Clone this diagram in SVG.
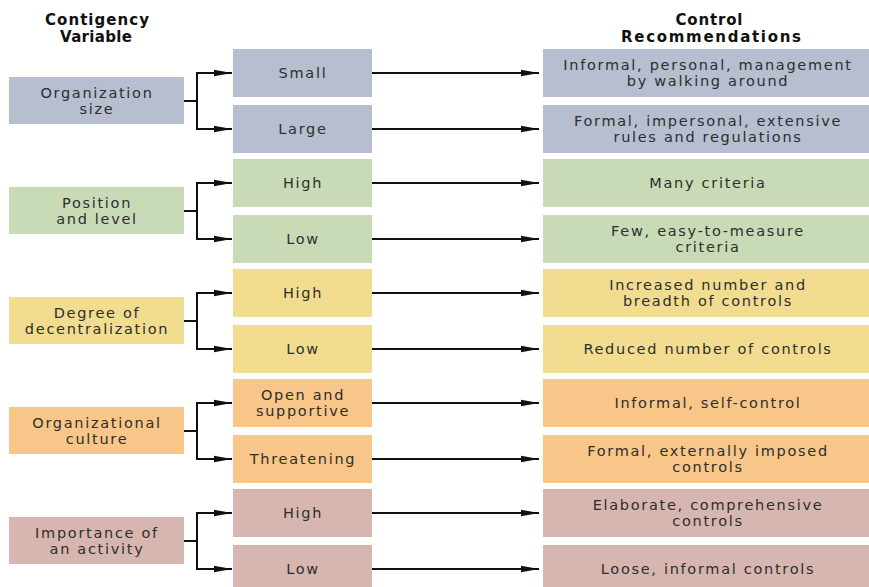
<svg xmlns="http://www.w3.org/2000/svg" width="869" height="587" viewBox="0 0 869 587">
<defs>
<style>
.hd{font-family:"DejaVu Sans","Liberation Sans",sans-serif;font-weight:bold;font-size:15px;fill:#111;text-anchor:middle}
.t{font-family:"DejaVu Sans","Liberation Sans",sans-serif;font-size:14.5px;fill:#2e2e2e;text-anchor:middle;letter-spacing:1.7px}
.c1{fill:#b6becf}
.c2{fill:#c8dbb6}
.c3{fill:#f2dc90}
.c4{fill:#f8c688}
.c5{fill:#d7b6af}
.ln{fill:none;stroke:#111;stroke-width:2}
.ar{fill:none;stroke:#111;stroke-width:2;marker-end:url(#ah)}
</style>
<marker id="ah" markerUnits="userSpaceOnUse" markerWidth="18" markerHeight="8" refX="18" refY="4" orient="auto">
<path d="M0,0.8 L18,4 L0,7.2 z" fill="#111"/>
</marker>
</defs>
<rect width="869" height="587" fill="#fff"/>
<g id="headers">
<text class="hd" x="97" y="25" textLength="104" lengthAdjust="spacing">Contigency</text>
<text class="hd" x="96" y="42" textLength="72" lengthAdjust="spacing">Variable</text>
<text class="hd" x="709" y="25" textLength="67" lengthAdjust="spacing">Control</text>
<text class="hd" x="711" y="42" textLength="180" lengthAdjust="spacing">Recommendations</text>
</g>
<g id="connectors">
<path class="ln" d="M184,101 H197 M197,73 V129"/>
<path class="ar" d="M196,73 H232"/><path class="ar" d="M196,129 H232"/>
<path class="ar" d="M372,73 H539"/><path class="ar" d="M372,129 H539"/>
<path class="ln" d="M184,211 H197 M197,183 V239"/>
<path class="ar" d="M196,183 H232"/><path class="ar" d="M196,239 H232"/>
<path class="ar" d="M372,183 H539"/><path class="ar" d="M372,239 H539"/>
<path class="ln" d="M184,321 H197 M197,293 V349"/>
<path class="ar" d="M196,293 H232"/><path class="ar" d="M196,349 H232"/>
<path class="ar" d="M372,293 H539"/><path class="ar" d="M372,349 H539"/>
<path class="ln" d="M184,431 H197 M197,403 V459"/>
<path class="ar" d="M196,403 H232"/><path class="ar" d="M196,459 H232"/>
<path class="ar" d="M372,403 H539"/><path class="ar" d="M372,459 H539"/>
<path class="ln" d="M184,541 H197 M197,513 V569"/>
<path class="ar" d="M196,513 H232"/><path class="ar" d="M196,569 H232"/>
<path class="ar" d="M372,513 H539"/><path class="ar" d="M372,569 H539"/>
</g>
<g id="var-orgsize"><rect class="c1" x="9" y="77" width="175" height="47"/><text class="t" x="97" y="98">Organization</text><text class="t" x="97" y="114">size</text></g>
<g id="opt-small"><rect class="c1" x="233" y="49" width="139" height="48"/><text class="t" x="303" y="78">Small</text></g>
<g id="opt-large"><rect class="c1" x="233" y="105" width="139" height="48"/><text class="t" x="303" y="134">Large</text></g>
<g id="rec-small"><rect class="c1" x="543" y="49" width="326" height="48"/><text class="t" x="708" y="70">Informal, personal, management</text><text class="t" x="708" y="86">by walking around</text></g>
<g id="rec-large"><rect class="c1" x="543" y="105" width="326" height="48"/><text class="t" x="708" y="126">Formal, impersonal, extensive</text><text class="t" x="708" y="142">rules and regulations</text></g>

<g id="var-position"><rect class="c2" x="9" y="187" width="175" height="47"/><text class="t" x="97" y="208">Position</text><text class="t" x="97" y="224">and level</text></g>
<g id="opt-pos-high"><rect class="c2" x="233" y="159" width="139" height="48"/><text class="t" x="303" y="188">High</text></g>
<g id="opt-pos-low"><rect class="c2" x="233" y="215" width="139" height="48"/><text class="t" x="303" y="244">Low</text></g>
<g id="rec-pos-high"><rect class="c2" x="543" y="159" width="326" height="48"/><text class="t" x="708" y="188">Many criteria</text></g>
<g id="rec-pos-low"><rect class="c2" x="543" y="215" width="326" height="48"/><text class="t" x="708" y="236">Few, easy-to-measure</text><text class="t" x="708" y="252">criteria</text></g>

<g id="var-decentral"><rect class="c3" x="9" y="297" width="175" height="47"/><text class="t" x="97" y="318">Degree of</text><text class="t" x="97" y="334">decentralization</text></g>
<g id="opt-dec-high"><rect class="c3" x="233" y="269" width="139" height="48"/><text class="t" x="303" y="298">High</text></g>
<g id="opt-dec-low"><rect class="c3" x="233" y="325" width="139" height="48"/><text class="t" x="303" y="354">Low</text></g>
<g id="rec-dec-high"><rect class="c3" x="543" y="269" width="326" height="48"/><text class="t" x="708" y="290">Increased number and</text><text class="t" x="708" y="306">breadth of controls</text></g>
<g id="rec-dec-low"><rect class="c3" x="543" y="325" width="326" height="48"/><text class="t" x="708" y="354">Reduced number of controls</text></g>

<g id="var-culture"><rect class="c4" x="9" y="407" width="175" height="47"/><text class="t" x="97" y="428">Organizational</text><text class="t" x="97" y="444">culture</text></g>
<g id="opt-open"><rect class="c4" x="233" y="379" width="139" height="48"/><text class="t" x="303" y="400">Open and</text><text class="t" x="303" y="416">supportive</text></g>
<g id="opt-threat"><rect class="c4" x="233" y="435" width="139" height="48"/><text class="t" x="303" y="464">Threatening</text></g>
<g id="rec-open"><rect class="c4" x="543" y="379" width="326" height="48"/><text class="t" x="708" y="408">Informal, self-control</text></g>
<g id="rec-threat"><rect class="c4" x="543" y="435" width="326" height="48"/><text class="t" x="708" y="456">Formal, externally imposed</text><text class="t" x="708" y="472">controls</text></g>

<g id="var-importance"><rect class="c5" x="9" y="517" width="175" height="47"/><text class="t" x="97" y="538">Importance of</text><text class="t" x="97" y="554">an activity</text></g>
<g id="opt-imp-high"><rect class="c5" x="233" y="489" width="139" height="48"/><text class="t" x="303" y="518">High</text></g>
<g id="opt-imp-low"><rect class="c5" x="233" y="545" width="139" height="48"/><text class="t" x="303" y="574">Low</text></g>
<g id="rec-imp-high"><rect class="c5" x="543" y="489" width="326" height="48"/><text class="t" x="708" y="510">Elaborate, comprehensive</text><text class="t" x="708" y="526">controls</text></g>
<g id="rec-imp-low"><rect class="c5" x="543" y="545" width="326" height="48"/><text class="t" x="708" y="574">Loose, informal controls</text></g>
</svg>
